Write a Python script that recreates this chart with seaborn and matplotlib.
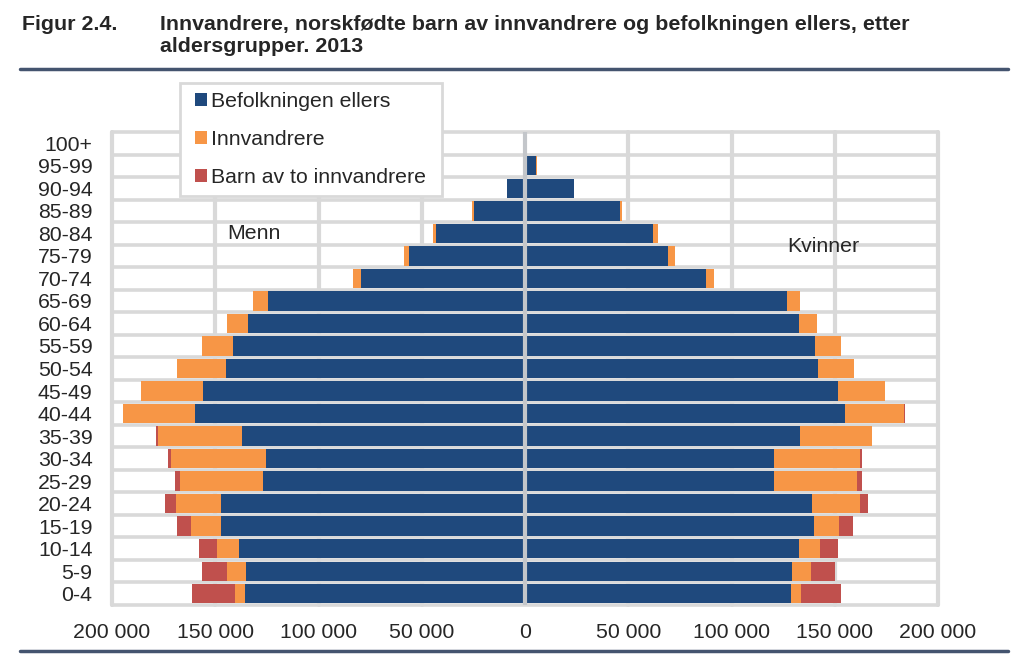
import matplotlib
matplotlib.use("Agg")
import matplotlib.pyplot as plt
import seaborn as sns
import numpy as np
import pandas as pd
from matplotlib.patches import Patch, Rectangle
from matplotlib.lines import Line2D

# ---------------- data (bottom age group first) ----------------
categories = ["0-4", "5-9", "10-14", "15-19", "20-24", "25-29", "30-34", "35-39",
              "40-44", "45-49", "50-54", "55-59", "60-64", "65-69", "70-74",
              "75-79", "80-84", "85-89", "90-94", "95-99", "100+"]

men_other = [135800, 135000, 138300, 147100, 147400, 126800, 125400, 137000,
             159700, 155800, 145000, 141300, 134000, 124300, 79300,
             56200, 42900, 24800, 8500, 800, 100]
men_immigrants = [4700, 9500, 10800, 14600, 21700, 40400, 45800, 40700,
                  34800, 30100, 23300, 15300, 10500, 7600, 4100,
                  2500, 1600, 900, 400, 300, 20]
men_children = [20900, 12100, 8900, 6800, 5000, 2200, 1500, 800,
                300, 200, 100, 0, 0, 0, 0, 0, 0, 0, 0, 0, 0]

women_other = [128600, 129400, 132900, 140000, 139000, 120700, 120400, 133200,
               154900, 151500, 141900, 140600, 132700, 127000, 87500,
               69300, 61800, 45800, 23600, 5500, 500]
women_immigrants = [5000, 8900, 10000, 12300, 23000, 40300, 41600, 34600,
                    28700, 22900, 17500, 12500, 8600, 6200, 4200,
                    3200, 2400, 1200, 300, 200, 20]
women_children = [19500, 11700, 8700, 6600, 4300, 2100, 1400, 400,
                  200, 100, 100, 0, 0, 0, 0, 0, 0, 0, 0, 0, 0]

series_labels = ["Befolkningen ellers", "Innvandrere", "Barn av to innvandrere"]
series_colors = ["#1f497d", "#f79646", "#c0504d"]

xticks = [-200000, -150000, -100000, -50000, 0, 50000, 100000, 150000, 200000]

title_num = "Figur 2.4."
title_line1 = "Innvandrere, norskfødte barn av innvandrere og befolkningen ellers, etter"
title_line2 = "aldersgrupper. 2013"

# ---------------- figure ----------------
sns.set_theme(style="white")
plt.rcParams["font.family"] = ["Liberation Sans", "DejaVu Sans"]

W, H = 1026, 664
FS = 15.3
fig = plt.figure(figsize=(W / 100, H / 100), dpi=100)
ax = fig.add_axes([112 / W, 1 - 605 / H, 826 / W, 473 / H])

order = categories[::-1]  # top to bottom
grid_col = "#d9d9d9"

def draw_side(layers, sign):
    cum = np.zeros(len(categories))
    cums = []
    for v in layers:
        cum = cum + np.asarray(v, dtype=float)
        cums.append(cum.copy())
    for c, col in reversed(list(zip(cums, series_colors))):
        df = pd.DataFrame({"age": categories, "value": sign * c})
        sns.barplot(data=df, x="value", y="age", order=order, orient="h",
                    color=col, saturation=1, width=0.86, errorbar=None,
                    linewidth=0, ax=ax, zorder=3)

draw_side([men_other, men_immigrants, men_children], -1)
draw_side([women_other, women_immigrants, women_children], 1)

ax.set_xlim(-200000, 200000)
ax.set_ylim(len(categories) - 0.5, -0.5)

# grid: vertical lines and row separators
for xv in xticks:
    if xv == 0:
        continue
    ax.axvline(xv, color=grid_col, lw=3, zorder=1, clip_on=False)
for yb in np.arange(-0.5, len(categories), 1.0):
    ax.axhline(yb, color=grid_col, lw=2.6, zorder=1, clip_on=False)
ax.axvline(0, color="#c3c6ca", lw=3, zorder=4)

for s in ax.spines.values():
    s.set_visible(False)

ax.set_xticks(xticks)
ax.set_xticklabels([f"{abs(v):,}".replace(",", " ") for v in xticks])
ax.tick_params(axis="x", length=0, labelsize=FS, pad=13)
ax.tick_params(axis="y", length=0, labelsize=FS, pad=14)
ax.set_xlabel("")
ax.set_ylabel("")

ax.text(-144000, 4.0, "Menn", fontsize=FS, ha="left", va="center", zorder=6)
ax.text(127000, 4.6, "Kvinner", fontsize=FS, ha="left", va="center", zorder=6)

# legend box
rect = Rectangle((180 / W, 1 - 196 / H), 262 / W, 113 / H, transform=fig.transFigure,
                 facecolor="white", edgecolor=grid_col, lw=2, zorder=3)
fig.add_artist(rect)
handles = [Patch(facecolor=c, edgecolor="none", label=l) for c, l in zip(series_colors, series_labels)]
leg = fig.legend(handles=handles, loc="upper left", bbox_to_anchor=(195 / W, 1 - 92 / H),
                 frameon=False, fontsize=FS, handlelength=0.55, handleheight=0.55,
                 handletextpad=0.2, labelspacing=0.9, borderpad=0, borderaxespad=0)
leg.set_zorder(6)

# title
TFS = 15.4
fig.text(22 / W, 1 - 25 / H, title_num, fontsize=TFS, fontweight="bold", va="center")
fig.text(160 / W, 1 - 25 / H, title_line1, fontsize=TFS, fontweight="bold", va="center")
fig.text(160 / W, 1 - 47 / H, title_line2, fontsize=TFS, fontweight="bold", va="center")

# divider lines
for yy in (69, 651):
    fig.add_artist(Line2D([20 / W, 1008 / W], [1 - yy / H, 1 - yy / H],
                          color="#44546f", lw=2.5, transform=fig.transFigure))

fig.savefig("out.png", dpi=100)
